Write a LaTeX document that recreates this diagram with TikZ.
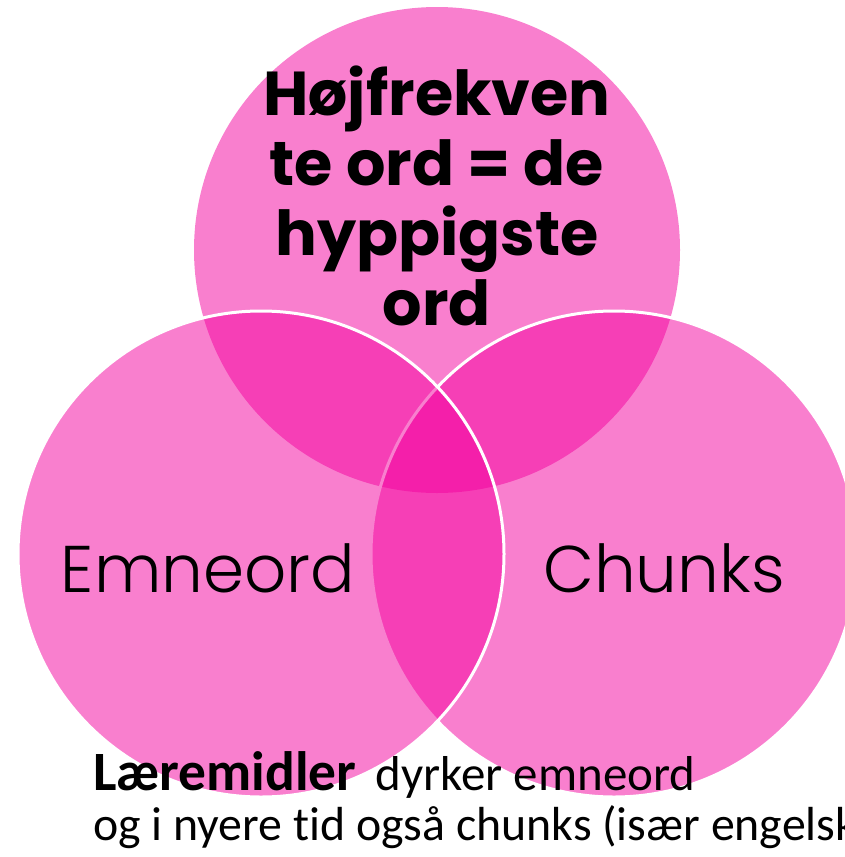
\documentclass[tikz,border=0pt]{standalone}
\usepackage{fontspec}
\setmainfont{Carlito}[Ligatures=NoCommon]
\newfontfamily\popfont{Poppins}
\newfontfamily\poplight{Poppins Light}
\definecolor{vpink}{RGB}{243,0,158}
\begin{document}
\begin{tikzpicture}[x=1pt,y=-1pt,
  vcirc/.style={circle, inner sep=0pt, minimum size=486pt, fill=vpink, fill opacity=0.5},
  vline/.style={draw=white, draw opacity=1, line width=3pt},
  toptext/.style={anchor=base, inner sep=0pt, font=\popfont\bfseries\fontsize{62}{70}\selectfont},
  sidetext/.style={anchor=base, inner sep=0pt, font=\poplight\fontsize{66}{75}\selectfont},
  bottext/.style={anchor=base west, inner sep=0pt}]
\useasboundingbox (0,0) rectangle (844,857);
\node[vcirc] (top) at (437,250) {};
\node[vcirc, vline] (right) at (614,554) {};
\node[vcirc, vline] (left) at (261,554) {};
\node[toptext] (t1) at (437,115) {Højfrekven};
\node[toptext] (t2) at (437,185) {te ord = de};
\node[toptext] (t3) at (437,255) {hyppigste};
\node[toptext] (t4) at (437,325) {ord};
\node[sidetext] (emne) at (208,592) {Emneord};
\node[sidetext] (chunks) at (664,592) {Chunks};
\node[bottext] (b1) at (93,790) {\fontsize{55.5}{58}\selectfont\textbf{Læremidler}\hspace{19pt}{\fontsize{49}{56}\selectfont dyrker emneord}};
\node[bottext] (b2) at (93,840) {\fontsize{47.8}{50}\selectfont og i nyere tid også chunks (især engelsk)};
\end{tikzpicture}
\end{document}
